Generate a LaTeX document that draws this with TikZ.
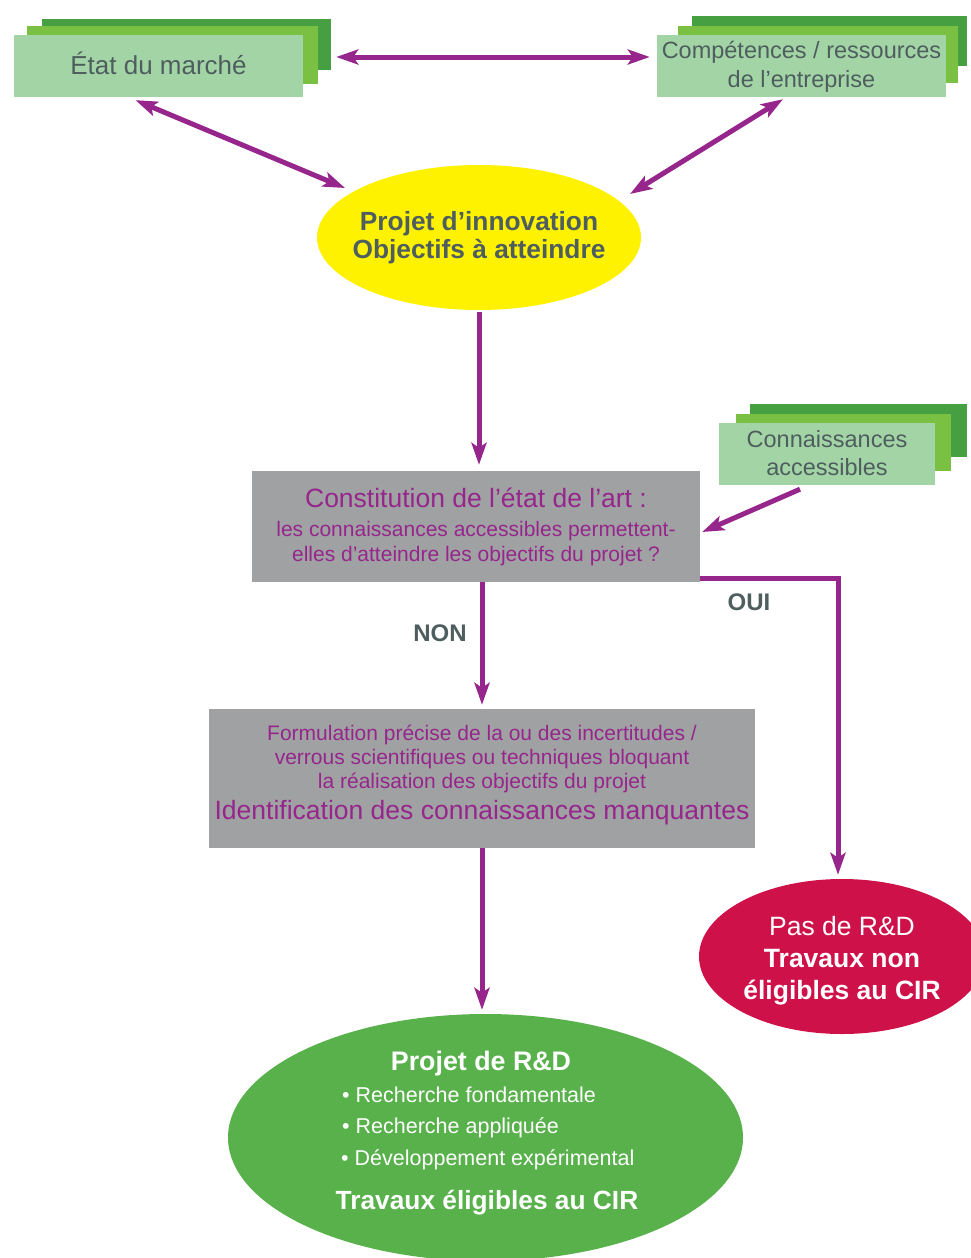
\documentclass[tikz,border=0pt]{standalone}
\usepackage{fontspec}
\setmainfont{Liberation Sans}
\usetikzlibrary{arrows.meta,shapes.geometric,calc}
\definecolor{gdark}{HTML}{46A041}
\definecolor{gmidc}{HTML}{7AC143}
\definecolor{glight}{HTML}{A3D4A5}
\definecolor{yel}{HTML}{FFF200}
\definecolor{grayb}{HTML}{A0A1A3}
\definecolor{purp}{HTML}{96268C}
\definecolor{redc}{HTML}{CE1148}
\definecolor{greenc}{HTML}{58B14B}
\definecolor{txtgray}{HTML}{4E5E5F}
\newcommand\myfs[2]{\fontsize{#1}{#2}\selectfont}
\tikzset{ptip/.tip={Stealth[length=22pt,width=15pt,inset=5pt]}}
\begin{document}
\begin{tikzpicture}[x=1pt,y=-1pt,
  gback/.style={fill=gdark,inner sep=0pt},
  gmid/.style={fill=gmidc,inner sep=0pt},
  gfront/.style={fill=glight,inner sep=0pt},
  gtext/.style={text=txtgray,align=center,inner sep=0pt},
  graybox/.style={fill=grayb,inner sep=0pt},
  ptext/.style={text=purp,align=center,inner sep=0pt},
  oval/.style={ellipse,inner sep=0pt},
  arr/.style={draw=purp,line width=5pt,-{ptip}},
  dbl/.style={draw=purp,line width=5pt,{ptip}-{ptip}},
  lbl/.style={text=txtgray,font=\bfseries\myfs{24}{28}},
  wtext/.style={text=white,inner sep=0pt,align=center}]
\clip (0,0) rectangle (971,1258);

% Etat du marche
\node[gback,minimum width=289pt,minimum height=51pt] (etatback) at (186.5,44.5) {};
\node[gmid,minimum width=291pt,minimum height=58pt] (etatmid) at (172.5,55) {};
\node[gfront,minimum width=289pt,minimum height=62pt] (etat) at (158.5,66) {};
\node[gtext,font=\myfs{26}{30}] (etattext) at (158.5,63) {État du marché};

% Competences
\node[gback,minimum width=275pt,minimum height=50pt] (compback) at (829.5,41) {};
\node[gmid,minimum width=280pt,minimum height=57pt] (compmid) at (818,54.5) {};
\node[gfront,minimum width=289pt,minimum height=62pt] (comp) at (801.5,66) {};
\node[gtext,font=\myfs{23.5}{29}] (comptext) at (801.5,67) {Compétences / ressources\\de l’entreprise};

% Connaissances
\node[gback,minimum width=217pt,minimum height=53pt] (connback) at (858.5,430.5) {};
\node[gmid,minimum width=215pt,minimum height=57pt] (connmid) at (843.5,442.5) {};
\node[gfront,minimum width=216pt,minimum height=62pt] (conn) at (827,454) {};
\node[gtext,font=\myfs{23.5}{28}] (conntext) at (827,453) {Connaissances\\accessibles};

% Projet d'innovation
\node[oval,fill=yel,minimum width=324pt,minimum height=145pt] (proj) at (479,237.5) {};
\node[gtext,font=\bfseries\myfs{26.3}{28}] (projtext) at (479,238) {Projet d’innovation\\Objectifs à atteindre};

% Constitution
\node[graybox,minimum width=448pt,minimum height=111pt] (const) at (476,526.5) {};
\node[ptext,font=\myfs{21}{25}] (consttext) at (476,526.5)
  {{\myfs{26.5}{26.5}Constitution de l’état de l’art :}\\[4pt]les connaissances accessibles permettent-\\elles d’atteindre les objectifs du projet ?};

% Formulation
\node[graybox,minimum width=546pt,minimum height=139pt] (form) at (482,778.5) {};
\node[ptext,font=\myfs{21}{24}] (formtext) at (482,775)
  {Formulation précise de la ou des incertitudes /\\verrous scientifiques ou techniques bloquant\\la réalisation des objectifs du projet\\[7pt]{\myfs{26.5}{26.5}Identification des connaissances manquantes}};

% Pas de R&D
\node[oval,fill=redc,minimum width=286pt,minimum height=155pt] (pas) at (842,956.5) {};
\node[wtext,font=\myfs{26.5}{32}] (pastext) at (842,961)
  {Pas de R\&D\\\textbf{Travaux non}\\\textbf{éligibles au CIR}};

% Projet de R&D
\node[oval,fill=greenc,minimum width=515pt,minimum height=247pt] (rd) at (485.5,1137.5) {};
\node[wtext,font=\bfseries\myfs{26.8}{30}] (rdtitle) at (481,1064) {Projet de R\&D};
\node[wtext,anchor=west,font=\myfs{21.5}{25}] (rd1) at (342,1095) {• Recherche fondamentale};
\node[wtext,anchor=west,font=\myfs{21.5}{25}] (rd2) at (342,1128) {• Recherche appliquée};
\node[wtext,anchor=west,font=\myfs{21.5}{25}] (rd3) at (341,1160) {• Développement expérimental};
\node[wtext,font=\bfseries\myfs{26.3}{30}] (rdfoot) at (487,1203) {Travaux éligibles au CIR};

% labels
\node[lbl] (non) at (440,633) {NON};
\node[lbl] (oui) at (749,602) {OUI};

% connectors
\draw[dbl] ($(etatmid.east)+(18,2)$) -- ($(comp.west)+(-7,-9)$);
\draw[dbl] ($(etat.south)+(-23,3)$) -- ($(proj.center)+(-134,-49.5)$);
\draw[dbl] ($(comp.south)+(-18.5,2)$) -- ($(proj.center)+(151,-43.5)$);
\draw[arr,shorten >=6pt,shorten <=2pt] (proj.south) -- (proj.south |- const.north);
\draw[arr] ($(conn.south)+(-27,4)$) -- ($(const.east)+(2,5.5)$);
\draw[arr,shorten >=4pt] (form.north |- const.south) -- (form.north);
\draw[arr,line join=miter] ($(const.south east)+(0,-4)$) -| ($(pas.north)+(-4,-4)$);
\draw[arr,shorten >=4pt] (form.south) -- (form.south |- rd.north);
\end{tikzpicture}
\end{document}
